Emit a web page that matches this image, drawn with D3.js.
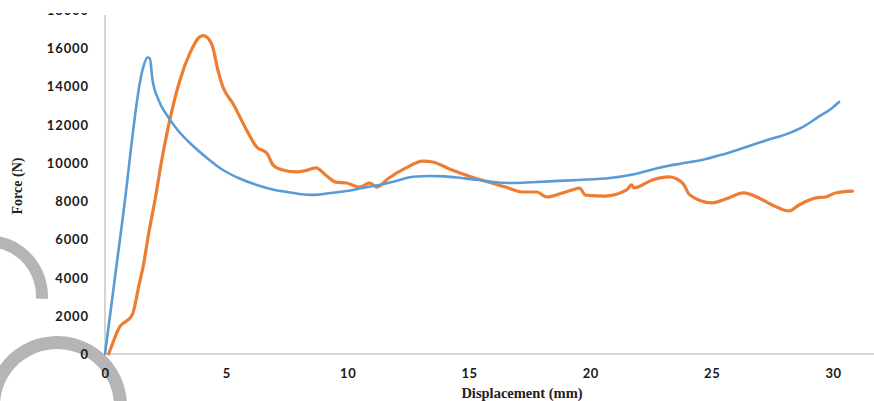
<!DOCTYPE html>
<html><head><meta charset="utf-8">
<script src="https://cdn.jsdelivr.net/npm/d3@7"></script>
<style>body{margin:0;background:#fff}svg{display:block}</style>
</head><body>
<script>
const blueX = [0,0.75,1.5,1.6,1.75,1.85,1.95,2.2,2.6,3.0,3.5,4.2,4.86,5.5,6.25,7.0,7.5,8.0,8.6,9.3,9.95,10.6,11.3,12.0,12.7,13.4,14.0,14.7,15.4,16.0,16.8,17.6,18.7,19.5,20.8,21.8,22.8,23.7,24.6,25.5,26.3,27.2,28.2,28.8,29.4,29.9,30.25];
const blueY = [0,7300,14600,15100,15500,15450,14400,13300,12400,11700,11030,10250,9620,9200,8840,8580,8470,8370,8320,8420,8520,8680,8840,9050,9270,9310,9290,9200,9100,8990,8940,8980,9050,9100,9200,9400,9730,9950,10140,10450,10770,11150,11550,11900,12400,12800,13180];
const orangeX = [0.15,0.3,0.5,0.6,0.8,1.03,1.15,1.4,1.57,1.8,2.06,2.34,2.67,3.09,3.5,3.9,4.05,4.19,4.44,4.65,4.86,5.27,5.84,6.25,6.67,6.93,7.33,7.9,8.3,8.7,9.1,9.5,9.95,10.5,10.9,11.2,11.7,12.4,13.1,13.5,14.3,15.1,15.8,16.5,17.2,17.8,18.2,18.85,19.4,19.55,19.8,20.6,21.5,21.7,21.8,22.55,23.25,23.8,24.1,25.0,25.7,26.3,26.95,27.5,28.2,28.6,29.3,29.7,30.1,30.8];
const orangeY = [0,500,1150,1410,1650,1880,2140,3600,4560,6300,8050,10140,12240,14330,15730,16580,16650,16580,16050,14850,13960,13100,11700,10820,10500,9880,9620,9520,9600,9730,9350,8990,8940,8730,8940,8730,9200,9730,10090,10040,9620,9260,8990,8730,8470,8470,8210,8420,8630,8680,8310,8260,8580,8840,8680,9100,9260,8940,8310,7900,8160,8420,8160,7790,7480,7790,8160,8210,8420,8520];
const xTicks = [0,5,10,15,20,25,30];
const yTicks = [0,2000,4000,6000,8000,10000,12000,14000,16000,18000];
const xTitle = "Displacement (mm)";
const yTitle = "Force (N)";

const W = 874, H = 401;
const svg = d3.select("body").append("svg").attr("width", W).attr("height", H);
const x = d3.scaleLinear().domain([0, 30]).range([105, 833]);
const y = d3.scaleLinear().domain([0, 18000]).range([354, 9.75]);

// decorative grey arcs (scan artefacts)
const arcG = svg.append("g").attr("fill", "#b5b5b5");
arcG.append("path").attr("transform", "translate(-13,296)")
  .attr("d", d3.arc()({innerRadius: 49, outerRadius: 61, startAngle: -0.4, endAngle: 1.62}));
arcG.append("path").attr("transform", "translate(57,406)")
  .attr("d", d3.arc()({innerRadius: 57, outerRadius: 70, startAngle: -1.6, endAngle: 1.9}));

// axis lines
svg.append("line").attr("x1", x(0)).attr("x2", x(0)).attr("y1", 15).attr("y2", y(0))
  .attr("stroke", "#d4d4d4").attr("stroke-width", 2);
svg.append("line").attr("x1", x(0)).attr("x2", W).attr("y1", y(0)).attr("y2", y(0))
  .attr("stroke", "#d4d4d4").attr("stroke-width", 2);

// clip for top label (partially cropped in the original)
svg.append("defs").append("clipPath").attr("id", "clipTop")
  .append("rect").attr("x", -300).attr("y", 13).attr("width", 600).attr("height", H);

const tickFont = "Lato, 'Open Sans', sans-serif";
const yAxis = d3.axisLeft(y).tickValues(yTicks).tickSize(0).tickPadding(0).tickFormat(d3.format("d"));
const yg = svg.append("g").attr("transform", "translate(89,0)").attr("clip-path", "url(#clipTop)").call(yAxis);
yg.select(".domain").remove();
yg.selectAll("text").attr("font-family", tickFont).attr("font-weight", "bold")
  .attr("font-size", 13).attr("letter-spacing", "0.9px").attr("fill", "#1a1a1a").attr("dy", "0.35em");

const xAxis = d3.axisBottom(x).tickValues(xTicks).tickSize(0).tickPadding(0).tickFormat(d3.format("d"));
const xg = svg.append("g").attr("transform", "translate(0,369)").call(xAxis);
xg.select(".domain").remove();
xg.selectAll("text").attr("font-family", tickFont).attr("font-weight", "bold")
  .attr("font-size", 13).attr("letter-spacing", "0.5px").attr("fill", "#1a1a1a").attr("dy", "0.7em");

// titles
svg.append("text").attr("x", 522).attr("y", 398).attr("text-anchor", "middle")
  .attr("font-family", "'Liberation Serif', 'Times New Roman', serif").attr("font-weight", "bold")
  .attr("font-size", 14.5).attr("fill", "#222").text(xTitle);
svg.append("text").attr("transform", "translate(22,186) rotate(-90)").attr("text-anchor", "middle")
  .attr("font-family", "'Liberation Serif', 'Times New Roman', serif").attr("font-weight", "bold")
  .attr("font-size", 14).attr("fill", "#222").text(yTitle);

// lines
const line = d3.line().x(d => x(d[0])).y(d => y(d[1])).curve(d3.curveMonotoneX);
svg.append("path").datum(orangeX.map((v, i) => [v, orangeY[i]]))
  .attr("d", line).attr("fill", "none").attr("stroke", "#ED7D31").attr("stroke-width", 3.2)
  .attr("stroke-linejoin", "round").attr("stroke-linecap", "round");
svg.append("path").datum(blueX.map((v, i) => [v, blueY[i]]))
  .attr("d", line).attr("fill", "none").attr("stroke", "#5B9BD5").attr("stroke-width", 2.6)
  .attr("stroke-linejoin", "round").attr("stroke-linecap", "round");
</script>
</body></html>
